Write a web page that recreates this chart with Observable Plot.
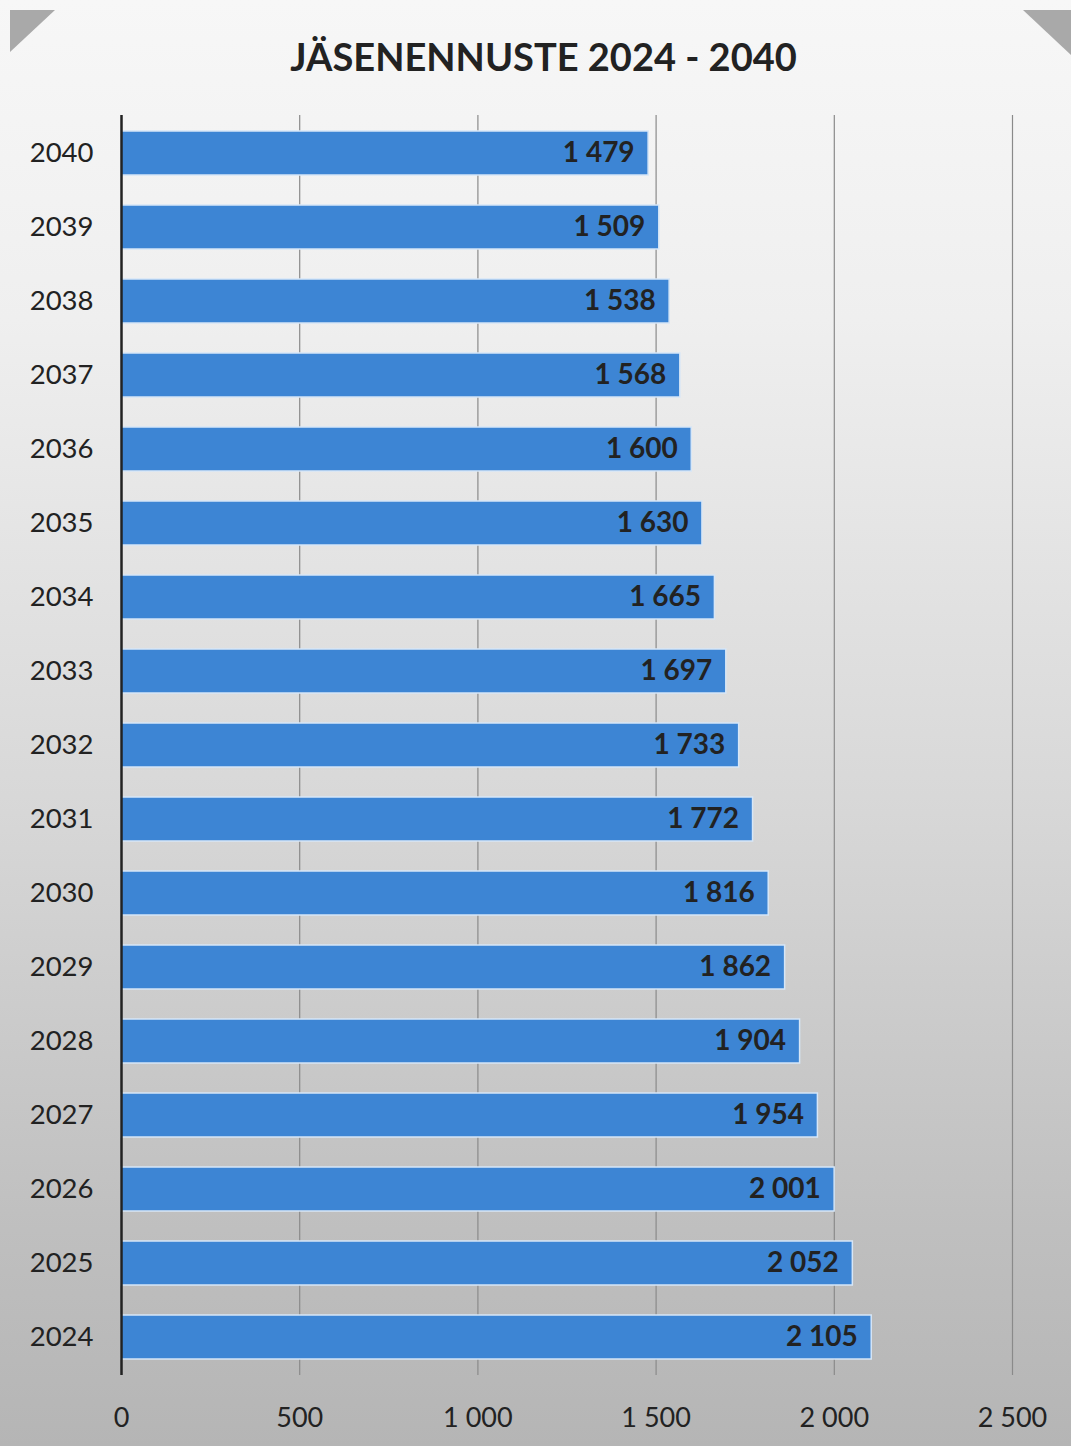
<!DOCTYPE html>
<html>
<head>
<meta charset="utf-8">
<script src="https://cdn.jsdelivr.net/npm/d3@7"></script>
<script src="https://cdn.jsdelivr.net/npm/@observablehq/plot@0.6"></script>
<style>
  html, body { margin: 0; padding: 0; }
  body {
    width: 1071px; height: 1446px; overflow: hidden; position: relative;
    background: linear-gradient(to bottom, #f7f7f7 0%, #efefef 22%, #d8d8d8 55%, #bfbfbf 85%, #b5b5b5 100%);
    font-family: Lato, "Open Sans", sans-serif;
  }
  .corner { position: absolute; top: 10px; width: 0; height: 0; }
  .cl { left: 10px; border-top: 42px solid #a9a9a9; border-right: 45px solid transparent; }
  .cr { right: 0px; border-top: 45px solid #a9a9a9; border-left: 48px solid transparent; }
  #title {
    height: 110px; box-sizing: border-box; padding-top: 33px; padding-left: 16px;
    text-align: center; font-weight: 700; font-size: 38px; color: #222; position: relative;
  }
  #chart { position: relative; }
</style>
</head>
<body>
<div class="corner cl"></div>
<div class="corner cr"></div>
<div id="title">JÄSENENNUSTE 2024 - 2040</div>
<div id="chart"></div>
<script>
const years = [2040, 2039, 2038, 2037, 2036, 2035, 2034, 2033, 2032, 2031, 2030, 2029, 2028, 2027, 2026, 2025, 2024];
const members = [1479, 1509, 1538, 1568, 1600, 1630, 1665, 1697, 1733, 1772, 1816, 1862, 1904, 1954, 2001, 2052, 2105];
const xTicks = [0, 500, 1000, 1500, 2000, 2500];

const data = years.map((y, i) => ({year: String(y), value: members[i]}));
const fmt = d3.formatLocale({decimal: ",", thousands: "\u00a0", grouping: [3], currency: ["", ""]}).format(",d");

const chart = Plot.plot({
  width: 1071,
  height: 1336,
  marginTop: 5,
  marginBottom: 71,
  marginLeft: 121,
  marginRight: 59,
  style: {background: "transparent", fontFamily: "Lato, 'Open Sans', sans-serif", fontSize: "27px", color: "#222"},
  x: {domain: [0, 2500], ticks: xTicks, tickFormat: fmt, label: null},
  y: {domain: years.map(String), paddingInner: 0.4, paddingOuter: 0.2, label: null},
  marks: [
    Plot.ruleX(xTicks.slice(1), {stroke: "#8a8a8a", strokeWidth: 1.2}),
    Plot.barX(data, {x: "value", y: "year", fill: "#3d85d4", stroke: "#d6e6f7", strokeWidth: 1.5}),
    Plot.ruleX([0], {stroke: "#222", strokeWidth: 2.5}),
    Plot.text(data, {x: "value", y: "year", text: d => fmt(d.value), textAnchor: "end", dx: -14, fontWeight: 700, fontSize: 28, fill: "#222"}),
    Plot.axisX({ticks: xTicks, tickFormat: fmt, tickSize: 0, tickPadding: 32, fontSize: 27, fill: "#222", label: null}),
    Plot.axisY({tickSize: 0, tickPadding: 28, fontSize: 27.5, fill: "#222", label: null})
  ]
});
document.getElementById("chart").appendChild(chart);
</script>
</body>
</html>
